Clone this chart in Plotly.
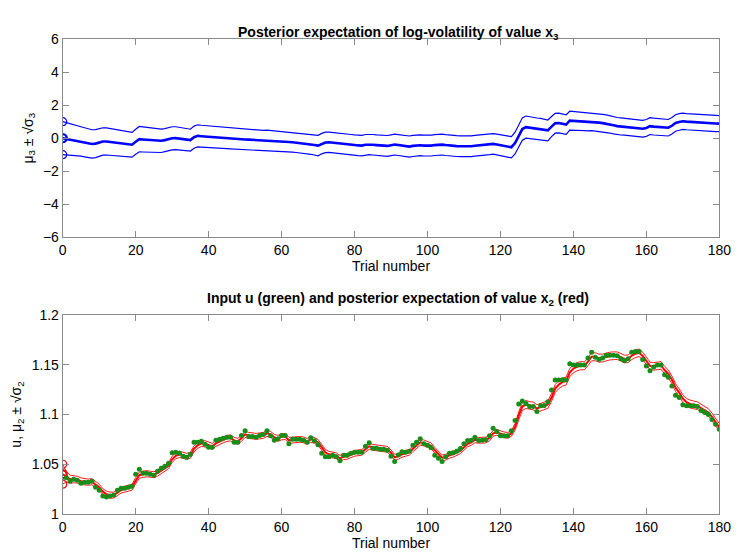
import plotly.graph_objects as go

# Trial index 0..180 (0 = prior)
trials = list(range(0, 181))

# Posterior mean of log-volatility x3 (index 0 = prior)
mu3 = [
    0.00,
    -0.04, -0.08, -0.12, -0.16, -0.20, -0.25, -0.30, -0.35, -0.33, -0.27,
    -0.20, -0.20, -0.23, -0.26, -0.29, -0.31, -0.34, -0.37, -0.40, -0.22,
    -0.06, -0.08, -0.10, -0.11, -0.13, -0.15, -0.16, -0.12, -0.06, -0.01,
    0.00, -0.03, -0.06, -0.09, -0.12, 0.06, 0.14, 0.12, 0.10, 0.08,
    0.06, 0.05, 0.03, 0.01, 0.00, -0.02, -0.03, -0.05, -0.07, -0.08,
    -0.09, -0.10, -0.11, -0.12, -0.14, -0.13, -0.15, -0.17, -0.18, -0.20,
    -0.21, -0.23, -0.25, -0.27, -0.29, -0.31, -0.34, -0.37, -0.41, -0.45,
    -0.33, -0.26, -0.25, -0.28, -0.30, -0.32, -0.34, -0.37, -0.40, -0.42,
    -0.44, -0.45, -0.40, -0.38, -0.40, -0.42, -0.43, -0.45, -0.47, -0.43,
    -0.39, -0.42, -0.46, -0.49, -0.51, -0.47, -0.44, -0.43, -0.45, -0.46,
    -0.45, -0.42, -0.40, -0.39, -0.42, -0.45, -0.47, -0.48, -0.49, -0.50,
    -0.51, -0.49, -0.46, -0.44, -0.45, -0.43, -0.38, -0.35, -0.39, -0.43,
    -0.47, -0.51, -0.55, -0.30, 0.14, 0.55, 0.67, 0.63, 0.60, 0.57,
    0.55, 0.50, 0.47, 0.70, 0.90, 0.92, 0.86, 0.82, 1.06, 1.05,
    1.03, 1.01, 1.00, 0.98, 1.00, 0.97, 0.94, 0.91, 0.88, 0.83,
    0.78, 0.73, 0.71, 0.69, 0.67, 0.65, 0.62, 0.60, 0.57, 0.62,
    0.73, 0.70, 0.68, 0.66, 0.64, 0.63, 0.75, 0.92, 0.98, 1.02,
    1.00, 0.98, 0.97, 0.95, 0.93, 0.92, 0.91, 0.90, 0.89, 0.88,
]

# Posterior standard deviation of x3
sd3 = [
    1.00,
    0.97, 0.95, 0.93, 0.91, 0.89, 0.88, 0.87, 0.86, 0.85, 0.84,
    0.83, 0.82, 0.81, 0.80, 0.79, 0.78, 0.77, 0.76, 0.75, 0.76,
    0.77, 0.76, 0.75, 0.74, 0.73, 0.72, 0.71, 0.70, 0.70, 0.70,
    0.69, 0.68, 0.67, 0.67, 0.66, 0.67, 0.67, 0.66, 0.66, 0.65,
    0.65, 0.65, 0.64, 0.64, 0.64, 0.63, 0.63, 0.63, 0.63, 0.62,
    0.62, 0.62, 0.62, 0.61, 0.61, 0.61, 0.61, 0.61, 0.60, 0.60,
    0.60, 0.60, 0.60, 0.60, 0.60, 0.60, 0.61, 0.61, 0.61, 0.62,
    0.62, 0.62, 0.61, 0.61, 0.61, 0.61, 0.61, 0.61, 0.62, 0.62,
    0.62, 0.62, 0.62, 0.62, 0.62, 0.62, 0.62, 0.62, 0.63, 0.63,
    0.63, 0.63, 0.63, 0.63, 0.64, 0.64, 0.63, 0.63, 0.63, 0.63,
    0.63, 0.63, 0.63, 0.63, 0.63, 0.63, 0.63, 0.63, 0.63, 0.63,
    0.64, 0.63, 0.63, 0.63, 0.63, 0.63, 0.62, 0.62, 0.63, 0.63,
    0.63, 0.64, 0.64, 0.66, 0.67, 0.68, 0.67, 0.66, 0.66, 0.65,
    0.65, 0.64, 0.63, 0.61, 0.60, 0.60, 0.59, 0.59, 0.57, 0.56,
    0.56, 0.55, 0.55, 0.54, 0.54, 0.54, 0.53, 0.53, 0.53, 0.52,
    0.52, 0.52, 0.52, 0.51, 0.51, 0.51, 0.51, 0.51, 0.51, 0.51,
    0.51, 0.51, 0.50, 0.50, 0.50, 0.50, 0.50, 0.50, 0.50, 0.49,
    0.49, 0.49, 0.49, 0.49, 0.49, 0.49, 0.49, 0.49, 0.49, 0.49,
]

# Observed inputs u, trials 1..180
u = [
    1.0365, 1.0330, 1.0350, 1.0340, 1.0310, 1.0320, 1.0320, 1.0330, 1.0270, 1.0240,
    1.0180, 1.0170, 1.0180, 1.0190, 1.0240, 1.0260, 1.0260, 1.0270, 1.0280, 1.0400,
    1.0450, 1.0410, 1.0410, 1.0400, 1.0390, 1.0430, 1.0460, 1.0480, 1.0510, 1.0615,
    1.0620, 1.0610, 1.0580, 1.0570, 1.0600, 1.0720, 1.0720, 1.0730, 1.0700, 1.0670,
    1.0670, 1.0740, 1.0750, 1.0760, 1.0770, 1.0770, 1.0720, 1.0720, 1.0790, 1.0836,
    1.0780, 1.0780, 1.0770, 1.0790, 1.0800, 1.0836, 1.0787, 1.0740, 1.0755, 1.0790,
    1.0790, 1.0706, 1.0750, 1.0750, 1.0750, 1.0740, 1.0720, 1.0765, 1.0735, 1.0696,
    1.0610, 1.0576, 1.0576, 1.0590, 1.0576, 1.0534, 1.0590, 1.0590, 1.0610, 1.0620,
    1.0620, 1.0620, 1.0680, 1.0716, 1.0660, 1.0660, 1.0650, 1.0650, 1.0640, 1.0580,
    1.0527, 1.0592, 1.0625, 1.0620, 1.0630, 1.0690, 1.0722, 1.0755, 1.0706, 1.0690,
    1.0667, 1.0590, 1.0560, 1.0527, 1.0576, 1.0610, 1.0615, 1.0630, 1.0657, 1.0706,
    1.0738, 1.0740, 1.0771, 1.0738, 1.0740, 1.0745, 1.0787, 1.0862, 1.0830, 1.0787,
    1.0787, 1.0787, 1.0836, 1.0940, 1.1105, 1.1135, 1.1110, 1.1080, 1.1080, 1.1031,
    1.1087, 1.1090, 1.1129, 1.1245, 1.1346, 1.1346, 1.1350, 1.1346, 1.1510, 1.1497,
    1.1497, 1.1497, 1.1497, 1.1568, 1.1626, 1.1574, 1.1552, 1.1568, 1.1594, 1.1594,
    1.1594, 1.1590, 1.1560, 1.1540, 1.1560, 1.1626, 1.1632, 1.1632, 1.1552, 1.1487,
    1.1438, 1.1477, 1.1497, 1.1497, 1.1399, 1.1373, 1.1285, 1.1194, 1.1170, 1.1097,
    1.1087, 1.1087, 1.1087, 1.1080, 1.1041, 1.1020, 1.0999, 1.0950, 1.0901, 1.0852,
]

# Posterior mean of value x2 (index 0 = prior)
mu2 = [
    1.0400,
    1.0375, 1.0350, 1.0350, 1.0345, 1.0330, 1.0325, 1.0320, 1.0325, 1.0300, 1.0270,
    1.0225, 1.0200, 1.0190, 1.0190, 1.0215, 1.0240, 1.0250, 1.0260, 1.0270, 1.0335,
    1.0390, 1.0400, 1.0405, 1.0400, 1.0395, 1.0410, 1.0435, 1.0460, 1.0485, 1.0550,
    1.0585, 1.0600, 1.0590, 1.0580, 1.0590, 1.0655, 1.0690, 1.0710, 1.0705, 1.0690,
    1.0680, 1.0710, 1.0730, 1.0745, 1.0760, 1.0765, 1.0740, 1.0730, 1.0760, 1.0800,
    1.0790, 1.0785, 1.0780, 1.0785, 1.0790, 1.0810, 1.0800, 1.0770, 1.0760, 1.0775,
    1.0780, 1.0740, 1.0745, 1.0750, 1.0750, 1.0745, 1.0730, 1.0750, 1.0740, 1.0720,
    1.0665, 1.0620, 1.0600, 1.0595, 1.0585, 1.0560, 1.0575, 1.0580, 1.0595, 1.0610,
    1.0615, 1.0620, 1.0650, 1.0680, 1.0670, 1.0665, 1.0660, 1.0655, 1.0650, 1.0615,
    1.0570, 1.0580, 1.0600, 1.0610, 1.0620, 1.0655, 1.0690, 1.0720, 1.0715, 1.0700,
    1.0685, 1.0640, 1.0600, 1.0565, 1.0570, 1.0590, 1.0600, 1.0615, 1.0635, 1.0670,
    1.0705, 1.0720, 1.0745, 1.0740, 1.0740, 1.0743, 1.0765, 1.0810, 1.0820, 1.0805,
    1.0795, 1.0790, 1.0810, 1.0875, 1.0990, 1.1080, 1.1100, 1.1090, 1.1085, 1.1060,
    1.1073, 1.1080, 1.1100, 1.1170, 1.1260, 1.1300, 1.1325, 1.1336, 1.1420, 1.1460,
    1.1480, 1.1490, 1.1490, 1.1530, 1.1580, 1.1580, 1.1566, 1.1567, 1.1580, 1.1587,
    1.1590, 1.1590, 1.1575, 1.1558, 1.1559, 1.1590, 1.1610, 1.1620, 1.1588, 1.1538,
    1.1488, 1.1483, 1.1490, 1.1493, 1.1446, 1.1410, 1.1348, 1.1270, 1.1220, 1.1160,
    1.1123, 1.1105, 1.1096, 1.1088, 1.1065, 1.1042, 1.1020, 1.0975, 1.0920, 1.0870,
]

# Posterior standard deviation of x2
sd2 = [
    0.0100,
    0.0052, 0.0041, 0.0036, 0.0034, 0.0033, 0.0032, 0.0031, 0.0031, 0.0030, 0.0030,
    0.0030, 0.0030, 0.0030, 0.0030, 0.0030, 0.0030, 0.0030, 0.0030, 0.0030, 0.0031,
    0.0031, 0.0031, 0.0031, 0.0030, 0.0030, 0.0030, 0.0030, 0.0030, 0.0030, 0.0031,
    0.0031, 0.0031, 0.0030, 0.0030, 0.0030, 0.0031, 0.0031, 0.0031, 0.0031, 0.0031,
    0.0031, 0.0030, 0.0030, 0.0030, 0.0030, 0.0030, 0.0030, 0.0030, 0.0030, 0.0030,
    0.0030, 0.0030, 0.0030, 0.0030, 0.0030, 0.0030, 0.0030, 0.0030, 0.0030, 0.0030,
    0.0030, 0.0030, 0.0029, 0.0029, 0.0029, 0.0029, 0.0029, 0.0029, 0.0029, 0.0029,
    0.0029, 0.0029, 0.0029, 0.0029, 0.0029, 0.0029, 0.0029, 0.0029, 0.0029, 0.0029,
    0.0029, 0.0029, 0.0029, 0.0029, 0.0029, 0.0029, 0.0029, 0.0029, 0.0029, 0.0029,
    0.0029, 0.0029, 0.0029, 0.0029, 0.0029, 0.0029, 0.0029, 0.0029, 0.0029, 0.0029,
    0.0029, 0.0029, 0.0029, 0.0029, 0.0029, 0.0029, 0.0029, 0.0029, 0.0029, 0.0029,
    0.0029, 0.0029, 0.0029, 0.0029, 0.0029, 0.0029, 0.0029, 0.0029, 0.0029, 0.0029,
    0.0029, 0.0029, 0.0029, 0.0032, 0.0036, 0.0039, 0.0040, 0.0039, 0.0039, 0.0038,
    0.0038, 0.0038, 0.0038, 0.0039, 0.0040, 0.0040, 0.0040, 0.0040, 0.0041, 0.0041,
    0.0041, 0.0041, 0.0040, 0.0040, 0.0040, 0.0040, 0.0040, 0.0039, 0.0039, 0.0039,
    0.0039, 0.0038, 0.0038, 0.0038, 0.0038, 0.0038, 0.0038, 0.0038, 0.0038, 0.0038,
    0.0038, 0.0038, 0.0038, 0.0038, 0.0038, 0.0038, 0.0039, 0.0039, 0.0039, 0.0039,
    0.0039, 0.0039, 0.0039, 0.0038, 0.0038, 0.0038, 0.0038, 0.0038, 0.0038, 0.0038,
]

x_ticks = [0, 20, 40, 60, 80, 100, 120, 140, 160, 180]
top_y_ticks = [-6, -4, -2, 0, 2, 4, 6]
bottom_y_ticks = [1, 1.05, 1.1, 1.15, 1.2]
bottom_y_labels = ["1", "1.05", "1.1", "1.15", "1.2"]

BLUE = "#0000ff"
RED = "#ff0000"
GREEN = "#198c19"
AXIS_GRAY = "#8a8a8a"
FONT = "Liberation Sans, Arial, sans-serif"

up3 = [m + s for m, s in zip(mu3, sd3)]
lo3 = [m - s for m, s in zip(mu3, sd3)]
up2 = [m + s for m, s in zip(mu2, sd2)]
lo2 = [m - s for m, s in zip(mu2, sd2)]

fig = go.Figure()

# ---- top panel: log-volatility ----
for ys, w in ((up3, 1.2), (lo3, 1.2), (mu3, 2.6)):
    fig.add_trace(go.Scatter(x=trials, y=ys, mode="lines",
                             line=dict(color=BLUE, width=w),
                             xaxis="x", yaxis="y", showlegend=False))
fig.add_trace(go.Scatter(x=[trials[0]] * 2, y=[up3[0], lo3[0]], mode="markers",
                         marker=dict(symbol="circle-open", size=8, color=BLUE,
                                     line=dict(width=1.2)),
                         xaxis="x", yaxis="y", showlegend=False))
fig.add_trace(go.Scatter(x=[trials[0]], y=[mu3[0]], mode="markers",
                         marker=dict(symbol="circle-open", size=8, color=BLUE,
                                     line=dict(width=2.4)),
                         xaxis="x", yaxis="y", showlegend=False))

# ---- bottom panel: inputs and value ----
for ys, w in ((up2, 0.9), (lo2, 0.9), (mu2, 2.0)):
    fig.add_trace(go.Scatter(x=trials, y=ys, mode="lines",
                             line=dict(color=RED, width=w),
                             xaxis="x2", yaxis="y2", showlegend=False))
fig.add_trace(go.Scatter(x=[trials[0]] * 2, y=[up2[0], lo2[0]], mode="markers",
                         marker=dict(symbol="circle-open", size=8, color=RED,
                                     line=dict(width=1.2)),
                         xaxis="x2", yaxis="y2", showlegend=False))
fig.add_trace(go.Scatter(x=[trials[0]], y=[mu2[0]], mode="markers",
                         marker=dict(symbol="circle-open", size=8, color=RED,
                                     line=dict(width=2.4)),
                         xaxis="x2", yaxis="y2", showlegend=False))
fig.add_trace(go.Scatter(x=trials[1:], y=u, mode="markers",
                         marker=dict(symbol="circle", size=5, color=GREEN),
                         xaxis="x2", yaxis="y2", showlegend=False))

W, H = 746, 557
x_dom = [60 / W, 731 / W]
top_dom = [(H - 236) / H, (H - 32) / H]
bot_dom = [(H - 521) / H, (H - 316) / H]
title_x = 403 / W

common_axis = dict(
    showline=True, mirror="allticks", linecolor=AXIS_GRAY, linewidth=1,
    ticks="inside", ticklen=6, tickcolor=AXIS_GRAY, tickwidth=1,
    showgrid=False, zeroline=False,
    tickfont=dict(family=FONT, size=14, color="#000000"),
)

fig.update_layout(
    width=W, height=H, autosize=False,
    margin=dict(l=0, r=0, t=0, b=0),
    paper_bgcolor="white", plot_bgcolor="white",
    font=dict(family=FONT, color="#000000"),
    xaxis=dict(domain=x_dom, anchor="y", range=[0, 180], tickvals=x_ticks,
               title=dict(text="Trial number", font=dict(size=14), standoff=3),
               **common_axis),
    yaxis=dict(domain=top_dom, anchor="x", range=[-6, 6], tickvals=top_y_ticks,
               title=dict(text="μ<sub>3</sub> ± √σ<sub>3</sub>",
                          font=dict(size=14), standoff=6),
               **common_axis),
    xaxis2=dict(domain=x_dom, anchor="y2", range=[0, 180], tickvals=x_ticks,
                title=dict(text="Trial number", font=dict(size=14), standoff=3),
                **common_axis),
    yaxis2=dict(domain=bot_dom, anchor="x2", range=[1, 1.2],
                tickvals=bottom_y_ticks, ticktext=bottom_y_labels,
                title=dict(text="u, μ<sub>2</sub> ± √σ<sub>2</sub>",
                           font=dict(size=14), standoff=6),
                **common_axis),
    annotations=[
        dict(text="<b>Posterior expectation of log-volatility of value x<sub>3</sub></b>",
             x=title_x, y=(H - 14) / H,
             xref="paper", yref="paper", showarrow=False,
             font=dict(family=FONT, size=14, color="#000000")),
        dict(text="<b>Input u (green) and posterior expectation of value x<sub>2</sub> (red)</b>",
             x=title_x, y=(H - 300) / H,
             xref="paper", yref="paper", showarrow=False,
             font=dict(family=FONT, size=14, color="#000000")),
    ],
)

fig.write_html("out.html")
